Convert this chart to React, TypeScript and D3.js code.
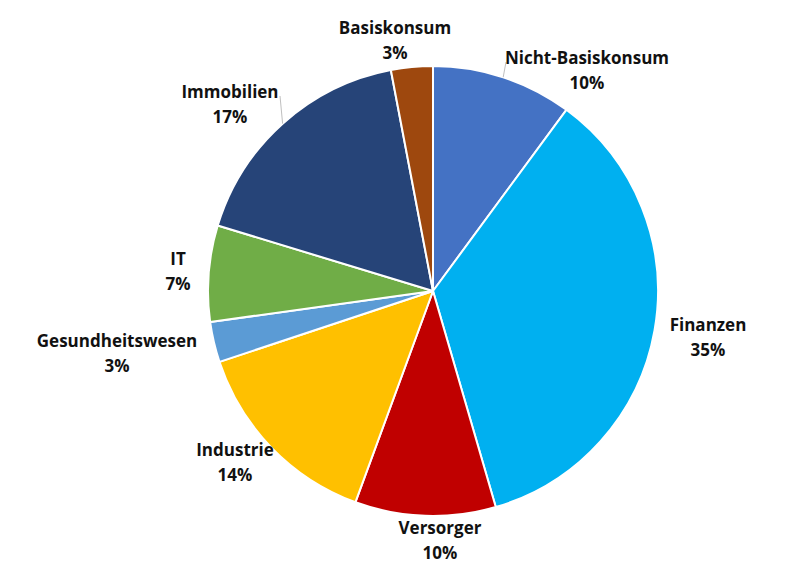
import React from "react";
import * as d3 from "d3";

const categories = ["Nicht-Basiskonsum", "Finanzen", "Versorger", "Industrie", "Gesundheitswesen", "IT", "Immobilien", "Basiskonsum"];
const values = [10.1, 35.4, 10.1, 14.3, 2.9, 6.9, 17.3, 3.0];
const percentLabels = ["10%", "35%", "10%", "14%", "3%", "7%", "17%", "3%"];
const colors = ["#4472C4", "#00B0F0", "#C00000", "#FFC000", "#5B9BD5", "#70AD47", "#264478", "#9E480E"];
// label anchor (center of two-line label) positions
const labelPos: [number, number][] = [
  [587, 70], [708, 337], [440, 540], [235, 462], [117, 353], [178, 271], [230, 104], [395, 40],
];
const leaderLines = [true, false, false, false, false, false, true, false];
const leaderEnds: [number, number][] = [
  [506, 62], [0, 0], [0, 0], [0, 0], [0, 0], [0, 0], [280, 96], [0, 0],
];

export default function App() {
  const W = 800, H = 582;
  const cx = 433, cy = 291, R = 225;
  const pie = d3.pie<number>().sort(null).value((d) => d)(values);
  const arc = d3.arc<d3.PieArcDatum<number>>().innerRadius(0).outerRadius(R);
  return (
    <svg width={W} height={H} style={{ position: "absolute", left: 0, top: 0, background: "#fff" }}
      fontFamily="'Open Sans', Lato, sans-serif">
      <g transform={`translate(${cx},${cy})`}>
        {pie.map((p, i) => (
          <path key={i} d={arc(p) || ""} fill={colors[i]} stroke="#fff" strokeWidth={2} strokeLinejoin="round" />
        ))}
        {pie.map((p, i) => {
          if (!leaderLines[i]) return null;
          const a = (p.startAngle + p.endAngle) / 2;
          const x1 = R * Math.sin(a), y1 = -R * Math.cos(a);
          const [ex, ey] = leaderEnds[i];
          return <line key={"l" + i} x1={x1} y1={y1} x2={ex - cx} y2={ey - cy} stroke="#BFBFBF" strokeWidth={1} />;
        })}
      </g>
      {categories.map((c, i) => (
        <text key={c} x={labelPos[i][0]} y={labelPos[i][1]} textAnchor="middle" fontWeight="bold" fontSize={17} fill="#111">
          <tspan x={labelPos[i][0]} dy="-0.38em">{c}</tspan>
          <tspan x={labelPos[i][0]} dy="1.47em">{percentLabels[i]}</tspan>
        </text>
      ))}
    </svg>
  );
}
